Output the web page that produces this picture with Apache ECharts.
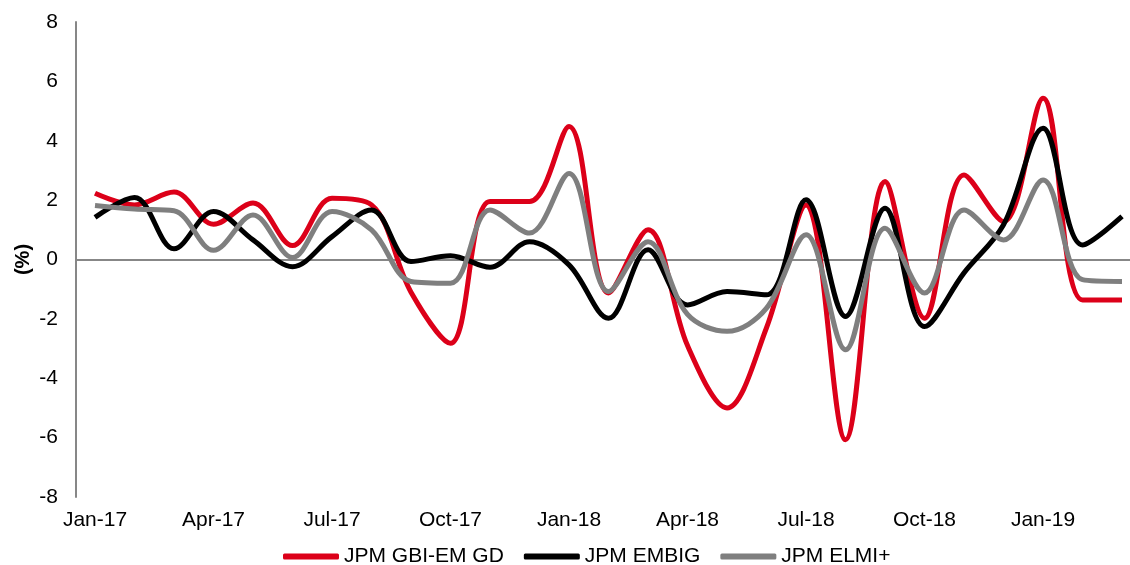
<!DOCTYPE html>
<html>
<head>
<meta charset="utf-8">
<script src="https://cdn.jsdelivr.net/npm/echarts@6/dist/echarts.min.js"></script>
<style>
  html, body { margin: 0; padding: 0; background: #fff; }
  #chart { width: 1130px; height: 565px; }
</style>
</head>
<body>
<div id="chart"></div>
<script>
// monthly returns, Jan-17 .. Mar-19
const months = ['Jan-17', 'Feb-17', 'Mar-17', 'Apr-17', 'May-17', 'Jun-17', 'Jul-17', 'Aug-17', 'Sep-17',
  'Oct-17', 'Nov-17', 'Dec-17', 'Jan-18', 'Feb-18', 'Mar-18', 'Apr-18', 'May-18', 'Jun-18',
  'Jul-18', 'Aug-18', 'Sep-18', 'Oct-18', 'Nov-18', 'Dec-18', 'Jan-19', 'Feb-19', 'Mar-19']
const tickLabels = ['Jan-17', 'Apr-17', 'Jul-17', 'Oct-17', 'Jan-18', 'Apr-18', 'Jul-18', 'Oct-18', 'Jan-19']

const gbiEm = [2.23, 1.84, 2.27, 1.19, 1.9, 0.47, 2.06, 1.84, -1.1, -2.82, 1.95, 1.95, 4.48, -1.13,
  1.0, -2.9, -5.0, -2.3, 1.84, -6.07, 2.63, -1.98, 2.85, 1.28, 5.43, -1.36, -1.36]
const embig = [1.42, 2.09, 0.36, 1.62, 0.66, -0.24, 0.77, 1.67, -0.07, 0.13, -0.26, 0.6, -0.18, -1.98,
  0.33, -1.53, -1.08, -1.19, 2.01, -1.92, 1.73, -2.26, -0.45, 1.17, 4.42, 0.49, 1.45]
const elmi = [1.82, 1.7, 1.64, 0.31, 1.5, 0.07, 1.62, 1.0, -0.74, -0.8, 1.67, 0.89, 2.9, -1.08,
  0.6, -1.85, -2.42, -1.64, 0.83, -3.04, 1.05, -1.13, 1.67, 0.66, 2.68, -0.68, -0.74]

const FONT = '"Liberation Sans", Arial, sans-serif'
const tickIdx = tickLabels.map((t) => months.indexOf(t))

const toPairs = (arr) => arr.map((v, i) => [i, v])

const lineSeries = (name, data, color) => ({
  name: name,
  type: 'line',
  data: toPairs(data),
  smooth: 0.35,
  symbol: 'none',
  lineStyle: { color: color, width: 5 },
  itemStyle: { color: color },
})

const option = {
  animation: false,
  textStyle: { fontFamily: FONT },
  grid: { left: 76, right: 0, top: 22, bottom: 68 },
  legend: {
    left: 283,
    bottom: -2,
    padding: 0,
    itemWidth: 56,
    itemHeight: 6,
    itemGap: 20,
    icon: 'roundRect',
    textStyle: { fontSize: 21, color: '#000', fontFamily: FONT },
    data: ['JPM GBI-EM GD', 'JPM EMBIG', 'JPM ELMI+'],
  },
  xAxis: [
    {
      type: 'value',
      min: -0.481,
      max: 26.202,
      axisLine: { show: false, onZero: false },
      axisTick: { show: false },
      splitLine: { show: false },
      axisLabel: {
        customValues: tickIdx,
        formatter: (v) => months[v],
        fontSize: 21,
        color: '#000',
        margin: 13,
      },
    },
    {
      type: 'value',
      min: -0.481,
      max: 26.202,
      axisLine: { show: true, onZero: true, lineStyle: { color: '#878787', width: 2 } },
      axisTick: { show: false },
      axisLabel: { show: false },
      splitLine: { show: false },
    },
  ],
  yAxis: {
    type: 'value',
    min: -8,
    max: 8,
    interval: 2,
    name: '(%)',
    nameLocation: 'middle',
    nameGap: 43,
    nameMoveOverlap: false,
    nameRotate: 90,
    nameTextStyle: { fontSize: 20, fontWeight: 'bold', color: '#000' },
    axisLine: { show: true, onZero: false, lineStyle: { color: '#878787', width: 2 } },
    axisTick: { show: false },
    splitLine: { show: false },
    axisLabel: { fontSize: 21, color: '#000', margin: 18 },
  },
  series: [
    lineSeries('JPM GBI-EM GD', gbiEm, '#DC0019'),
    lineSeries('JPM EMBIG', embig, '#000000'),
    lineSeries('JPM ELMI+', elmi, '#7F7F7F'),
  ],
}

const c = echarts.init(document.getElementById('chart'))
c.setOption(option)
</script>
</body>
</html>
